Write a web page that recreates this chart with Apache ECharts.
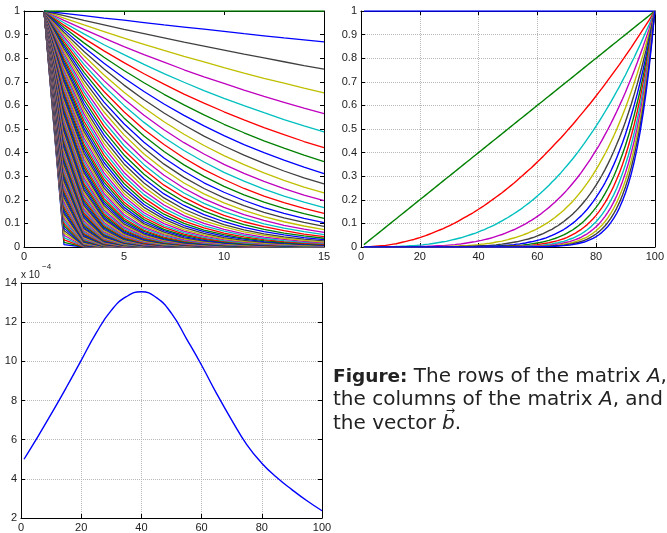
<!DOCTYPE html>
<html>
<head>
<meta charset="utf-8">
<title>Rows and columns of A, vector b</title>
<script src="https://cdn.jsdelivr.net/npm/echarts@6/dist/echarts.min.js"></script>
<style>
  html, body { margin: 0; background: #fff; }
  #main { width: 667px; height: 533px; }
</style>
</head>
<body>
<div id="main"></div>
<script>
// matrix A: 100 rows x 15 columns
var matrixA = [
  [1,.01,0,0,0,0,0,0,0,0,0,0,0,0,0],
  [1,.02,0,0,0,0,0,0,0,0,0,0,0,0,0],
  [1,.03,.001,0,0,0,0,0,0,0,0,0,0,0,0],
  [1,.04,.002,0,0,0,0,0,0,0,0,0,0,0,0],
  [1,.05,.003,0,0,0,0,0,0,0,0,0,0,0,0],
  [1,.06,.004,0,0,0,0,0,0,0,0,0,0,0,0],
  [1,.07,.005,0,0,0,0,0,0,0,0,0,0,0,0],
  [1,.08,.006,.001,0,0,0,0,0,0,0,0,0,0,0],
  [1,.09,.008,.001,0,0,0,0,0,0,0,0,0,0,0],
  [1,.1,.01,.001,0,0,0,0,0,0,0,0,0,0,0],
  [1,.11,.012,.001,0,0,0,0,0,0,0,0,0,0,0],
  [1,.12,.014,.002,0,0,0,0,0,0,0,0,0,0,0],
  [1,.13,.017,.002,0,0,0,0,0,0,0,0,0,0,0],
  [1,.14,.02,.003,0,0,0,0,0,0,0,0,0,0,0],
  [1,.15,.023,.003,.001,0,0,0,0,0,0,0,0,0,0],
  [1,.16,.026,.004,.001,0,0,0,0,0,0,0,0,0,0],
  [1,.17,.029,.005,.001,0,0,0,0,0,0,0,0,0,0],
  [1,.18,.032,.006,.001,0,0,0,0,0,0,0,0,0,0],
  [1,.19,.036,.007,.001,0,0,0,0,0,0,0,0,0,0],
  [1,.2,.04,.008,.002,0,0,0,0,0,0,0,0,0,0],
  [1,.21,.044,.009,.002,0,0,0,0,0,0,0,0,0,0],
  [1,.22,.048,.011,.002,.001,0,0,0,0,0,0,0,0,0],
  [1,.23,.053,.012,.003,.001,0,0,0,0,0,0,0,0,0],
  [1,.24,.058,.014,.003,.001,0,0,0,0,0,0,0,0,0],
  [1,.25,.063,.016,.004,.001,0,0,0,0,0,0,0,0,0],
  [1,.26,.068,.018,.005,.001,0,0,0,0,0,0,0,0,0],
  [1,.27,.073,.02,.005,.001,0,0,0,0,0,0,0,0,0],
  [1,.28,.078,.022,.006,.002,0,0,0,0,0,0,0,0,0],
  [1,.29,.084,.024,.007,.002,.001,0,0,0,0,0,0,0,0],
  [1,.3,.09,.027,.008,.002,.001,0,0,0,0,0,0,0,0],
  [1,.31,.096,.03,.009,.003,.001,0,0,0,0,0,0,0,0],
  [1,.32,.102,.033,.01,.003,.001,0,0,0,0,0,0,0,0],
  [1,.33,.109,.036,.012,.004,.001,0,0,0,0,0,0,0,0],
  [1,.34,.116,.039,.013,.005,.002,.001,0,0,0,0,0,0,0],
  [1,.35,.123,.043,.015,.005,.002,.001,0,0,0,0,0,0,0],
  [1,.36,.13,.047,.017,.006,.002,.001,0,0,0,0,0,0,0],
  [1,.37,.137,.051,.019,.007,.003,.001,0,0,0,0,0,0,0],
  [1,.38,.144,.055,.021,.008,.003,.001,0,0,0,0,0,0,0],
  [1,.39,.152,.059,.023,.009,.004,.001,.001,0,0,0,0,0,0],
  [1,.4,.16,.064,.026,.01,.004,.002,.001,0,0,0,0,0,0],
  [1,.41,.168,.069,.028,.012,.005,.002,.001,0,0,0,0,0,0],
  [1,.42,.176,.074,.031,.013,.005,.002,.001,0,0,0,0,0,0],
  [1,.43,.185,.08,.034,.015,.006,.003,.001,.001,0,0,0,0,0],
  [1,.44,.194,.085,.037,.016,.007,.003,.001,.001,0,0,0,0,0],
  [1,.45,.203,.091,.041,.018,.008,.004,.002,.001,0,0,0,0,0],
  [1,.46,.212,.097,.045,.021,.009,.004,.002,.001,0,0,0,0,0],
  [1,.47,.221,.104,.049,.023,.011,.005,.002,.001,.001,0,0,0,0],
  [1,.48,.23,.111,.053,.025,.012,.006,.003,.001,.001,0,0,0,0],
  [1,.49,.24,.118,.058,.028,.014,.007,.003,.002,.001,0,0,0,0],
  [1,.5,.25,.125,.063,.031,.016,.008,.004,.002,.001,0,0,0,0],
  [1,.51,.26,.133,.068,.035,.018,.009,.005,.002,.001,.001,0,0,0],
  [1,.52,.27,.141,.073,.038,.02,.01,.005,.003,.001,.001,0,0,0],
  [1,.53,.281,.149,.079,.042,.022,.012,.006,.003,.002,.001,0,0,0],
  [1,.54,.292,.157,.085,.046,.025,.013,.007,.004,.002,.001,.001,0,0],
  [1,.55,.303,.166,.092,.05,.028,.015,.008,.005,.003,.001,.001,0,0],
  [1,.56,.314,.176,.098,.055,.031,.017,.01,.005,.003,.002,.001,.001,0],
  [1,.57,.325,.185,.106,.06,.034,.02,.011,.006,.004,.002,.001,.001,0],
  [1,.58,.336,.195,.113,.066,.038,.022,.013,.007,.004,.002,.001,.001,0],
  [1,.59,.348,.205,.121,.071,.042,.025,.015,.009,.005,.003,.002,.001,.001],
  [1,.6,.36,.216,.13,.078,.047,.028,.017,.01,.006,.004,.002,.001,.001],
  [1,.61,.372,.227,.138,.084,.052,.031,.019,.012,.007,.004,.003,.002,.001],
  [1,.62,.384,.238,.148,.092,.057,.035,.022,.014,.008,.005,.003,.002,.001],
  [1,.63,.397,.25,.158,.099,.063,.039,.025,.016,.01,.006,.004,.002,.002],
  [1,.64,.41,.262,.168,.107,.069,.044,.028,.018,.012,.007,.005,.003,.002],
  [1,.65,.423,.275,.179,.116,.075,.049,.032,.021,.013,.009,.006,.004,.002],
  [1,.66,.436,.287,.19,.125,.083,.055,.036,.024,.016,.01,.007,.005,.003],
  [1,.67,.449,.301,.202,.135,.09,.061,.041,.027,.018,.012,.008,.005,.004],
  [1,.68,.462,.314,.214,.145,.099,.067,.046,.031,.021,.014,.01,.007,.005],
  [1,.69,.476,.329,.227,.156,.108,.074,.051,.035,.024,.017,.012,.008,.006],
  [1,.7,.49,.343,.24,.168,.118,.082,.058,.04,.028,.02,.014,.01,.007],
  [1,.71,.504,.358,.254,.18,.128,.091,.065,.046,.033,.023,.016,.012,.008],
  [1,.72,.518,.373,.269,.193,.139,.1,.072,.052,.037,.027,.019,.014,.01],
  [1,.73,.533,.389,.284,.207,.151,.11,.081,.059,.043,.031,.023,.017,.012],
  [1,.74,.548,.405,.3,.222,.164,.122,.09,.067,.049,.036,.027,.02,.015],
  [1,.75,.563,.422,.316,.237,.178,.133,.1,.075,.056,.042,.032,.024,.018],
  [1,.76,.578,.439,.334,.254,.193,.146,.111,.085,.064,.049,.037,.028,.021],
  [1,.77,.593,.457,.352,.271,.208,.16,.124,.095,.073,.056,.043,.033,.026],
  [1,.78,.608,.475,.37,.289,.225,.176,.137,.107,.083,.065,.051,.04,.031],
  [1,.79,.624,.493,.39,.308,.243,.192,.152,.12,.095,.075,.059,.047,.037],
  [1,.8,.64,.512,.41,.328,.262,.21,.168,.134,.107,.086,.069,.055,.044],
  [1,.81,.656,.531,.43,.349,.282,.229,.185,.15,.122,.098,.08,.065,.052],
  [1,.82,.672,.551,.452,.371,.304,.249,.204,.168,.137,.113,.092,.076,.062],
  [1,.83,.689,.572,.475,.394,.327,.271,.225,.187,.155,.129,.107,.089,.074],
  [1,.84,.706,.593,.498,.418,.351,.295,.248,.208,.175,.147,.123,.104,.087],
  [1,.85,.723,.614,.522,.444,.377,.321,.272,.232,.197,.167,.142,.121,.103],
  [1,.86,.74,.636,.547,.47,.405,.348,.299,.257,.221,.19,.164,.141,.121],
  [1,.87,.757,.659,.573,.498,.434,.377,.328,.286,.248,.216,.188,.164,.142],
  [1,.88,.774,.681,.6,.528,.464,.409,.36,.316,.279,.245,.216,.19,.167],
  [1,.89,.792,.705,.627,.558,.497,.442,.394,.35,.312,.278,.247,.22,.196],
  [1,.9,.81,.729,.656,.59,.531,.478,.43,.387,.349,.314,.282,.254,.229],
  [1,.91,.828,.754,.686,.624,.568,.517,.47,.428,.389,.354,.322,.293,.267],
  [1,.92,.846,.779,.716,.659,.606,.558,.513,.472,.434,.4,.368,.338,.311],
  [1,.93,.865,.804,.748,.696,.647,.602,.56,.52,.484,.45,.419,.389,.362],
  [1,.94,.884,.831,.781,.734,.69,.648,.61,.573,.539,.506,.476,.447,.421],
  [1,.95,.903,.857,.815,.774,.735,.698,.663,.63,.599,.569,.54,.513,.488],
  [1,.96,.922,.885,.849,.815,.783,.751,.721,.693,.665,.638,.613,.588,.565],
  [1,.97,.941,.913,.885,.859,.833,.808,.784,.76,.737,.715,.694,.673,.653],
  [1,.98,.96,.941,.922,.904,.886,.868,.851,.834,.817,.801,.785,.769,.754],
  [1,.99,.98,.97,.961,.951,.941,.932,.923,.914,.904,.895,.886,.878,.869],
  [1,1,1,1,1,1,1,1,1,1,1,1,1,1,1]
];

// vector b (units of 1e-4), read at these indices
var bIndex  = [1, 5, 10, 15, 20, 25, 30, 35, 40, 45, 50, 55, 60, 65, 70, 75, 80, 85, 90, 95, 100];
var bValues = [5.0, 6.0, 7.3, 8.65, 10.05, 11.45, 12.6, 13.3, 13.55, 13.25, 12.45, 11.15, 9.8, 8.35, 7.0, 5.75, 4.8, 4.07, 3.45, 2.88, 2.37];

// matlab default color order
var lineColors = ['#0000ff', '#008000', '#ff0000', '#00bfbf', '#bf00bf', '#bfbf00', '#404040'];

var labelFont = { color: '#222', fontSize: 11, fontFamily: 'Liberation Sans' };
var gridLine = { show: true, lineStyle: { color: '#b8b8b8', type: 'dotted', width: 1 } };
var captionFont = '20px "DejaVu Sans"';

function axis(gridIndex, position, min, max, step, labels, grid) {
    return {
        type: 'value',
        gridIndex: gridIndex,
        position: position,
        min: min,
        max: max,
        interval: step,
        axisLine: { show: true, onZero: false, lineStyle: { color: '#000', width: 1 } },
        axisTick: { show: true, inside: true, length: 4, lineStyle: { color: '#000' } },
        axisLabel: Object.assign({ show: labels, margin: 4 }, labelFont),
        splitLine: grid ? gridLine : { show: false }
    };
}

var series = [];

// rows of A
matrixA.forEach(function (row, i) {
    series.push({
        type: 'line', xAxisIndex: 0, yAxisIndex: 0,
        symbol: 'none', silent: true, color: lineColors[i % 7],
        lineStyle: { width: 1.3 },
        data: row.map(function (v, j) { return [j + 1, v]; })
    });
});

// columns of A
for (var j = 0; j < matrixA[0].length; j++) {
    series.push({
        type: 'line', xAxisIndex: 2, yAxisIndex: 2,
        symbol: 'none', silent: true, color: lineColors[j % 7],
        lineStyle: { width: 1.4 },
        data: matrixA.map(function (row, i) { return [i + 1, row[j]]; })
    });
}

// vector b
series.push({
    type: 'line', xAxisIndex: 4, yAxisIndex: 4,
    symbol: 'none', silent: true, smooth: 0.5, color: '#0000ff',
    lineStyle: { width: 1.4 },
    data: bIndex.map(function (x, k) { return [x, bValues[k]]; })
});

// where the arrow over b goes
var ctx = document.createElement('canvas').getContext('2d');
ctx.font = captionFont;
var preW = ctx.measureText('the vector ').width;
ctx.font = 'italic ' + captionFont;
var bW = ctx.measureText('b').width;

var captionLeft = 333;

var myChart = echarts.init(document.getElementById('main'));
var option = {
    animation: false,
    backgroundColor: '#fff',
    grid: [
        { left: 24, top: 11, width: 300, height: 236 },
        { left: 361, top: 11, width: 297, height: 236 },
        { left: 21, top: 283, width: 301, height: 238 }
    ],
    xAxis: [
        axis(0, 'bottom', 0, 15, 5, true, false),
        axis(0, 'top', 0, 15, 5, false, false),
        axis(1, 'bottom', 0, 100, 20, true, true),
        axis(1, 'top', 0, 100, 20, false, false),
        axis(2, 'bottom', 0, 100, 20, true, true),
        axis(2, 'top', 0, 100, 20, false, false)
    ],
    yAxis: [
        axis(0, 'left', 0, 1, 0.1, true, false),
        axis(0, 'right', 0, 1, 0.1, false, false),
        axis(1, 'left', 0, 1, 0.1, true, true),
        axis(1, 'right', 0, 1, 0.1, false, false),
        axis(2, 'left', 2, 14, 2, true, true),
        axis(2, 'right', 2, 14, 2, false, false)
    ],
    series: series,
    graphic: [
        {
            type: 'text', x: 21, y: 270,
            style: { text: 'x 10', fill: '#222', font: '10px "Liberation Sans"' }
        },
        {
            type: 'text', x: 42, y: 263,
            style: { text: '\u22124', fill: '#222', font: '8px "Liberation Sans"' }
        },
        {
            type: 'text', x: captionLeft, y: 365,
            style: {
                text: '{b|Figure:} The rows of the matrix {i|A},\nthe columns of the matrix {i|A}, and\nthe vector {i|b}.',
                fill: '#222',
                font: captionFont,
                lineHeight: 23.5,
                rich: {
                    b: { fontFamily: 'DejaVu Sans', fontSize: 18.5, fontWeight: 'bold', lineHeight: 23.5 },
                    i: { fontFamily: 'DejaVu Sans', fontSize: 20, fontStyle: 'italic', lineHeight: 23.5 }
                }
            }
        },
        {
            type: 'text', x: captionLeft + preW + bW / 2 + 2, y: 406,
            style: { text: '\u2192', fill: '#222', font: '11px "DejaVu Sans"', align: 'center' }
        }
    ]
};
option && myChart.setOption(option);
</script>
</body>
</html>
